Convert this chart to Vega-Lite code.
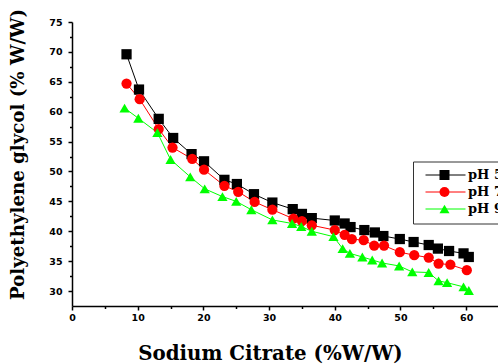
{
  "$schema": "https://vega.github.io/schema/vega-lite/v6.json",
  "width": 427,
  "height": 284,
  "autosize": {"type": "none"},
  "padding": {"left": 72, "top": 22, "right": 0, "bottom": 58},
  "background": "white",
  "config": {
    "view": {"stroke": null},
    "axis": {"grid": false, "domainColor": "black", "tickColor": "black", "labelColor": "black", "titleColor": "black", "labelFlush": false, "labelOverlap": false}
  },
  "data": {
    "values": [
      {"pH": "pH 5", "x": 8.3, "y": 69.6},
      {"pH": "pH 5", "x": 10.2, "y": 63.7},
      {"pH": "pH 5", "x": 13.2, "y": 58.8},
      {"pH": "pH 5", "x": 15.4, "y": 55.6},
      {"pH": "pH 5", "x": 18.2, "y": 52.9},
      {"pH": "pH 5", "x": 20.1, "y": 51.7},
      {"pH": "pH 5", "x": 23.2, "y": 48.6},
      {"pH": "pH 5", "x": 25.1, "y": 47.9},
      {"pH": "pH 5", "x": 27.7, "y": 46.2},
      {"pH": "pH 5", "x": 30.5, "y": 44.8},
      {"pH": "pH 5", "x": 33.6, "y": 43.7},
      {"pH": "pH 5", "x": 35.0, "y": 42.9},
      {"pH": "pH 5", "x": 36.5, "y": 42.2},
      {"pH": "pH 5", "x": 40.0, "y": 41.8},
      {"pH": "pH 5", "x": 41.5, "y": 41.3},
      {"pH": "pH 5", "x": 42.4, "y": 40.7},
      {"pH": "pH 5", "x": 44.5, "y": 40.2},
      {"pH": "pH 5", "x": 46.1, "y": 39.8},
      {"pH": "pH 5", "x": 47.4, "y": 39.2},
      {"pH": "pH 5", "x": 49.9, "y": 38.7},
      {"pH": "pH 5", "x": 52.0, "y": 38.2},
      {"pH": "pH 5", "x": 54.3, "y": 37.7},
      {"pH": "pH 5", "x": 55.7, "y": 37.1},
      {"pH": "pH 5", "x": 57.4, "y": 36.7},
      {"pH": "pH 5", "x": 59.6, "y": 36.3},
      {"pH": "pH 5", "x": 60.4, "y": 35.7},
      {"pH": "pH 7", "x": 8.3, "y": 64.7},
      {"pH": "pH 7", "x": 10.3, "y": 62.1},
      {"pH": "pH 7", "x": 13.2, "y": 57.1},
      {"pH": "pH 7", "x": 15.3, "y": 54.0},
      {"pH": "pH 7", "x": 18.3, "y": 52.1},
      {"pH": "pH 7", "x": 20.1, "y": 50.3},
      {"pH": "pH 7", "x": 23.2, "y": 47.6},
      {"pH": "pH 7", "x": 25.3, "y": 46.6},
      {"pH": "pH 7", "x": 27.8, "y": 44.9},
      {"pH": "pH 7", "x": 30.5, "y": 43.6},
      {"pH": "pH 7", "x": 33.7, "y": 42.1},
      {"pH": "pH 7", "x": 35.0, "y": 41.7},
      {"pH": "pH 7", "x": 36.5, "y": 41.0},
      {"pH": "pH 7", "x": 40.0, "y": 40.2},
      {"pH": "pH 7", "x": 41.5, "y": 39.4},
      {"pH": "pH 7", "x": 42.6, "y": 38.7},
      {"pH": "pH 7", "x": 44.4, "y": 38.5},
      {"pH": "pH 7", "x": 46.0, "y": 37.6},
      {"pH": "pH 7", "x": 47.5, "y": 37.6},
      {"pH": "pH 7", "x": 49.9, "y": 36.5},
      {"pH": "pH 7", "x": 52.1, "y": 36.0},
      {"pH": "pH 7", "x": 54.3, "y": 35.6},
      {"pH": "pH 7", "x": 55.8, "y": 34.6},
      {"pH": "pH 7", "x": 57.6, "y": 34.4},
      {"pH": "pH 7", "x": 60.1, "y": 33.5},
      {"pH": "pH 9", "x": 8.0, "y": 60.6},
      {"pH": "pH 9", "x": 10.1, "y": 58.9},
      {"pH": "pH 9", "x": 13.0, "y": 56.5},
      {"pH": "pH 9", "x": 15.0, "y": 52.0},
      {"pH": "pH 9", "x": 18.0, "y": 49.1},
      {"pH": "pH 9", "x": 20.2, "y": 47.1},
      {"pH": "pH 9", "x": 22.9, "y": 45.8},
      {"pH": "pH 9", "x": 25.0, "y": 45.0},
      {"pH": "pH 9", "x": 27.3, "y": 43.6},
      {"pH": "pH 9", "x": 30.5, "y": 41.9},
      {"pH": "pH 9", "x": 33.5, "y": 41.3},
      {"pH": "pH 9", "x": 34.9, "y": 40.8},
      {"pH": "pH 9", "x": 36.5, "y": 40.0},
      {"pH": "pH 9", "x": 39.8, "y": 39.1},
      {"pH": "pH 9", "x": 41.2, "y": 37.1},
      {"pH": "pH 9", "x": 42.3, "y": 36.3},
      {"pH": "pH 9", "x": 44.2, "y": 35.7},
      {"pH": "pH 9", "x": 45.7, "y": 35.2},
      {"pH": "pH 9", "x": 47.2, "y": 34.7},
      {"pH": "pH 9", "x": 49.8, "y": 34.2},
      {"pH": "pH 9", "x": 51.8, "y": 33.2},
      {"pH": "pH 9", "x": 54.3, "y": 33.1},
      {"pH": "pH 9", "x": 55.8, "y": 31.7},
      {"pH": "pH 9", "x": 57.1, "y": 31.4},
      {"pH": "pH 9", "x": 59.6, "y": 30.7},
      {"pH": "pH 9", "x": 60.4, "y": 30.1}
    ]
  },
  "layer": [
    {
      "mark": {"type": "line", "strokeWidth": 1},
      "encoding": {
        "x": {
          "field": "x", "type": "quantitative",
          "scale": {"domain": [0, 65], "nice": false, "zero": false},
          "axis": {
            "orient": "bottom", "values": [0, 10, 20, 30, 40, 50, 60],
            "title": "Sodium Citrate (%W/W)",
            "tickSize": 4, "tickWidth": 1.5, "domainWidth": 1.5,
            "labelFont": "DejaVu Sans", "labelFontWeight": "bold", "labelFontSize": 9.5, "labelPadding": 2,
            "titleFont": "DejaVu Serif", "titleFontWeight": "bold", "titleFontSize": 19.8,
            "titleX": 198, "titleY": 37, "titleBaseline": "top"
          }
        },
        "y": {
          "field": "y", "type": "quantitative",
          "scale": {"domain": [27.5, 75], "nice": false, "zero": false},
          "axis": {
            "orient": "left", "values": [30, 35, 40, 45, 50, 55, 60, 65, 70, 75],
            "title": "Polyethylene glycol (% W/W)",
            "tickSize": 4, "tickWidth": 1.5, "domainWidth": 1.5,
            "labelFont": "DejaVu Sans", "labelFontWeight": "bold", "labelFontSize": 9.5, "labelPadding": 6,
            "titleFont": "DejaVu Serif", "titleFontWeight": "bold", "titleFontSize": 18.2,
            "titleX": -45, "titleY": 132, "titleBaseline": "bottom"
          }
        },
        "color": {
          "field": "pH", "type": "nominal",
          "scale": {"domain": ["pH 5", "pH 7", "pH 9"], "range": ["#000000", "#ff0000", "#00ff00"]},
          "legend": {
            "title": null, "orient": "none", "legendX": 341, "legendY": 139.5,
            "strokeColor": "#333333", "padding": 7,
            "symbolType": "M-5,0H5", "symbolSize": 64, "symbolStrokeWidth": 1,
            "symbolOffset": 19, "labelOffset": 16, "rowPadding": 3,
            "labelFont": "DejaVu Serif", "labelFontWeight": "bold", "labelFontSize": 13, "labelColor": "black"
          }
        }
      }
    },
    {
      "mark": {"type": "point", "filled": true, "size": 105, "opacity": 1},
      "encoding": {
        "x": {
          "field": "x", "type": "quantitative",
          "axis": {"orient": "bottom", "values": [5, 15, 25, 35, 45, 55], "labels": false, "domain": false, "tickSize": 2.5, "tickWidth": 1.5, "title": null}
        },
        "y": {
          "field": "y", "type": "quantitative",
          "axis": {"orient": "left", "values": [32.5, 37.5, 42.5, 47.5, 52.5, 57.5, 62.5, 67.5, 72.5], "labels": false, "domain": false, "tickSize": 2.5, "tickWidth": 1.5, "title": null}
        },
        "color": {
          "field": "pH", "type": "nominal",
          "scale": {"domain": ["pH 5", "pH 7", "pH 9"], "range": ["#000000", "#ff0000", "#00ff00"]},
          "legend": {
            "title": null, "orient": "none", "legendX": 341, "legendY": 139.5,
            "padding": 7, "symbolSize": 100,
            "symbolOffset": 18, "labelOffset": 15, "rowPadding": 3,
            "labelExpr": "''",
            "labelFont": "DejaVu Serif", "labelFontWeight": "bold", "labelFontSize": 13, "labelColor": "black"
          }
        },
        "shape": {
          "field": "pH", "type": "nominal",
          "scale": {"domain": ["pH 5", "pH 7", "pH 9"], "range": ["square", "circle", "triangle-up"]},
          "legend": {
            "title": null, "orient": "none", "legendX": 341, "legendY": 139.5,
            "padding": 7, "symbolSize": 100,
            "symbolOffset": 18, "labelOffset": 15, "rowPadding": 3,
            "labelExpr": "''",
            "labelFont": "DejaVu Serif", "labelFontWeight": "bold", "labelFontSize": 13, "labelColor": "black"
          }
        }
      }
    }
  ],
  "resolve": {"scale": {"color": "independent", "shape": "independent"}, "axis": {"x": "independent", "y": "independent"}}
}
